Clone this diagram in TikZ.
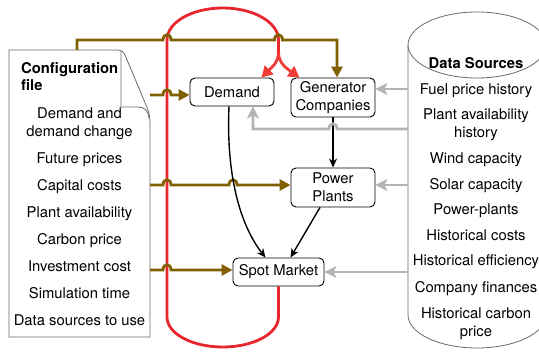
\documentclass[tikz,border=0pt]{standalone}
\usepackage{fontspec}
\setmainfont{TeX Gyre Heros}
\usetikzlibrary{arrows.meta}
\definecolor{brn}{HTML}{806000}
\definecolor{redl}{HTML}{E8262E}
\definecolor{reda}{HTML}{EE3B33}
\definecolor{gry}{HTML}{B4B4B4}
\definecolor{outl}{HTML}{6A6A6A}
\begin{document}
\begin{tikzpicture}[x=1pt,y=-1pt,
  fs/.style={font=\fontsize{14.8}{18}\selectfont},
  fsb/.style={font=\fontsize{14.8}{18}\selectfont\bfseries},
  box/.style={draw=black, line width=0.9pt, rounded corners=5pt, fill=white, align=center, fs, inner sep=0pt},
  item/.style={fs, anchor=base, inner sep=0pt},
  brw/.style={draw=brn, line width=2.8pt, -{Triangle[length=11pt,width=11pt]}},
  gra/.style={draw=gry, line width=2.8pt, -{Stealth[length=12pt,width=12pt,inset=3pt]}},
  blk/.style={draw=black, line width=1.4pt, -{Stealth[length=9pt,width=8pt]}},
  rda/.style={draw=reda, line width=2.8pt, -{Triangle[length=11pt,width=12pt]}},
  outlinebox/.style={draw=outl, line width=0.8pt, fill=white}
]
\useasboundingbox (0,0) rectangle (539,352);

% configuration file page
\draw[outlinebox] (9,50) -- (116,50) .. controls (121,50) and (123,51) .. (125,55)
  -- (146,105) .. controls (149,112) and (150,116) .. (150,124) -- (150,337) -- (9,337) -- cycle;
\draw[draw=outl, line width=0.8pt] (121,51) -- (121,107) -- (138,107) .. controls (144,107) and (148,110) .. (149,118);
\coordinate (cfgtop) at (77,50);

% data sources cylinder
\draw[outlinebox] (408,45) -- (408,315) .. controls (408,333.2) and (438.9,348) .. (477,348)
  .. controls (515.1,348) and (546,333.2) .. (546,315) -- (546,45);
\draw[draw=outl, line width=0.8pt] (477,45) ellipse [x radius=69pt, y radius=33pt];

% texts of configuration file
\node[fsb, anchor=base west, inner sep=0pt] (cfgA) at (21,74) {Configuration};
\node[fsb, anchor=base west, inner sep=0pt] (cfgB) at (21,91) {file};
\node[item] (c1a) at (79.5,118.3) {Demand and};
\node[item] (c1b) at (79.5,136.3) {demand change};
\node[item] (c2) at (79.5,163.3) {Future prices};
\node[item] (c3) at (79.5,190.3) {Capital costs};
\node[item] (c4) at (79.5,217.3) {Plant availability};
\node[item] (c5) at (79.5,244.3) {Carbon price};
\node[item] (c6) at (79.5,271.3) {Investment cost};
\node[item] (c7) at (79.5,298.3) {Simulation time};
\node[item] (c8) at (79.5,325.3) {Data sources to use};

% texts of data sources
\node[fsb, anchor=base, inner sep=0pt] (dsT) at (476,68.3) {Data Sources};
\node[item] (d1) at (476,94.3) {Fuel price history};
\node[item] (d2a) at (476,119.3) {Plant availability};
\node[item] (d2b) at (476,137.3) {history};
\node[item] (d3) at (476,163.3) {Wind capacity};
\node[item] (d4) at (476,189.3) {Solar capacity};
\node[item] (d5) at (476,214.3) {Power-plants};
\node[item] (d6) at (476,240.3) {Historical costs};
\node[item] (d7) at (476,265.3) {Historical efficiency};
\node[item] (d8) at (476,292.3) {Company finances};
\node[item] (d9a) at (476,318.3) {Historical carbon};
\node[item] (d9b) at (476,336.3) {price};

% boxes
\node[box, minimum width=84pt, minimum height=28pt] (demand) at (232,92) {Demand};
\node[box, minimum width=84pt, minimum height=39pt] (gen) at (333,97.5) {Generator\\Companies};
\node[box, minimum width=84pt, minimum height=39pt] (power) at (333,187.5) {Power\\Plants};
\node[box, minimum width=91pt, minimum height=28pt] (spot) at (278.5,272) {Spot Market};

% red loop
\draw[draw=redl, line width=2.8pt] (spot.south) -- (278.5,317)
  .. controls (278.5,333.6) and (253.6,347) .. (222.75,347)
  .. controls (191.9,347) and (167,333.6) .. (167,317) -- (167,40)
  .. controls (167,22.3) and (191.9,8) .. (222.75,8)
  .. controls (253.6,8) and (278.5,22.3) .. (278.5,40) -- (278.5,52) coordinate (split);
\draw[rda] (split) .. controls (278.5,63) and (271,68) .. ([xshift=-13pt]demand.north east);
\draw[rda] (split) .. controls (278.5,63) and (286,68) .. ([xshift=9pt]gen.north west);

% brown connectors
\draw[brw] (cfgtop) -- (77,40) -- (163,40) .. controls (163,33) and (171,33) .. (171,40)
  -- (274.5,40) .. controls (274.5,33) and (282.5,33) .. (282.5,40) -- (337,40) -- (337,0 |- gen.north);
\coordinate (b1) at (150,95);
\draw[brw] (b1) -- (163,95) .. controls (163,88) and (171,88) .. (171,95) -- (demand.west |- b1);
\coordinate (b2) at (150,185);
\draw[brw] (b2) -- (163,185) .. controls (163,178) and (171,178) .. (171,185)
  -- (229,185) .. controls (229,178) and (237,178) .. (237,185) -- (power.west |- b2);
\coordinate (b3) at (150,270);
\draw[brw] (b3) -- (163,270) .. controls (163,263) and (171,263) .. (171,270) -- (spot.west |- b3);

% black connectors
\draw[blk] (gen.south) -- (power.north);
\draw[blk] ([xshift=-3pt]demand.south) .. controls (226,175) and (240,225) .. ([xshift=-13pt]spot.north);
\draw[blk] ([xshift=-13pt]power.south) -- ([xshift=12pt]spot.north);

% grey connectors
\coordinate (g1) at (408,89);
\draw[gra] (g1) -- (gen.east |- g1);
\coordinate (g2) at (408,129);
\draw[gra] (g2) -- (337,129) .. controls (337,122) and (329,122) .. (329,129) -- (253,129) -- (253,0 |- demand.south);
\coordinate (g3) at (408,185);
\draw[gra] (g3) -- (power.east |- g3);
\coordinate (g4) at (408,272);
\draw[gra] (g4) -- (spot.east |- g4);
\end{tikzpicture}
\end{document}
